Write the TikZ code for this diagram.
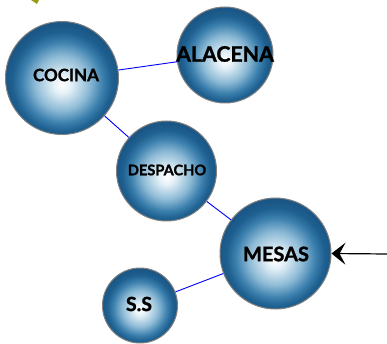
\documentclass[tikz,border=0pt]{standalone}
\usepackage{fontspec}
\setmainfont{Lato}[BoldFeatures={FakeBold=1.3}]
\usetikzlibrary{arrows.meta}
\definecolor{edgeblue}{HTML}{1A5786}
\definecolor{darkblue}{HTML}{1E6090}
\definecolor{midblue}{HTML}{3C80AE}
\definecolor{lightblue}{HTML}{8EBBD6}
\definecolor{paleblue}{HTML}{E4F0F7}
\definecolor{olivebit}{HTML}{9A9A12}
\pgfdeclareradialshading{bluesph}{\pgfpoint{0bp}{-3bp}}{%
  color(0bp)=(white); color(4bp)=(paleblue); color(12bp)=(lightblue);
  color(18bp)=(midblue); color(22bp)=(darkblue); color(25bp)=(edgeblue); color(50bp)=(edgeblue)}
\tikzset{
  sph/.style={circle, draw=gray, line width=1pt, shading=bluesph, inner sep=0pt},
  lbl/.style={text=black},
  link/.style={draw=blue, line width=0.9pt},
}
\begin{document}
\begin{tikzpicture}[x=1pt,y=-1pt]
\useasboundingbox (0,0) rectangle (387,344);
\fill[olivebit] (31,0) -- (39,0) -- (37,4) -- cycle;
\node[sph, minimum size=113pt] (cocina) at (62,78) {};
\node[lbl, font=\bfseries\fontsize{17}{17}\selectfont] (tcocina) at (66,75) {COCINA};
\node[sph, minimum size=96pt] (alacena) at (225,55) {};
\node[lbl, font=\bfseries\fontsize{21.3}{21.3}\selectfont] (talacena) at (225,54) {ALACENA};
\node[sph, minimum size=100pt] (despacho) at (166.5,171) {};
\node[lbl, font=\bfseries\fontsize{14.6}{14.6}\selectfont] (tdespacho) at (167,170) {DESPACHO};
\node[sph, minimum size=111pt] (mesas) at (275.5,253.5) {};
\node[lbl, font=\bfseries\fontsize{20}{20}\selectfont] (tmesas) at (276,254) {MESAS};
\node[sph, minimum size=75pt] (ss) at (140,305.5) {};
\node[lbl, font=\bfseries\fontsize{19.5}{19.5}\selectfont] (tss) at (139,304) {S.S};
\coordinate (arrstart) at (387,254);
\draw[link] (cocina) -- (alacena);
\draw[link] (cocina) -- (despacho);
\draw[link] (despacho) -- (mesas);
\draw[link] (mesas) -- (ss);
\draw[line width=1.2pt, -{Stealth[length=14pt, width=22pt, inset=6pt]}] (arrstart) -- (mesas.east);
\end{tikzpicture}
\end{document}
